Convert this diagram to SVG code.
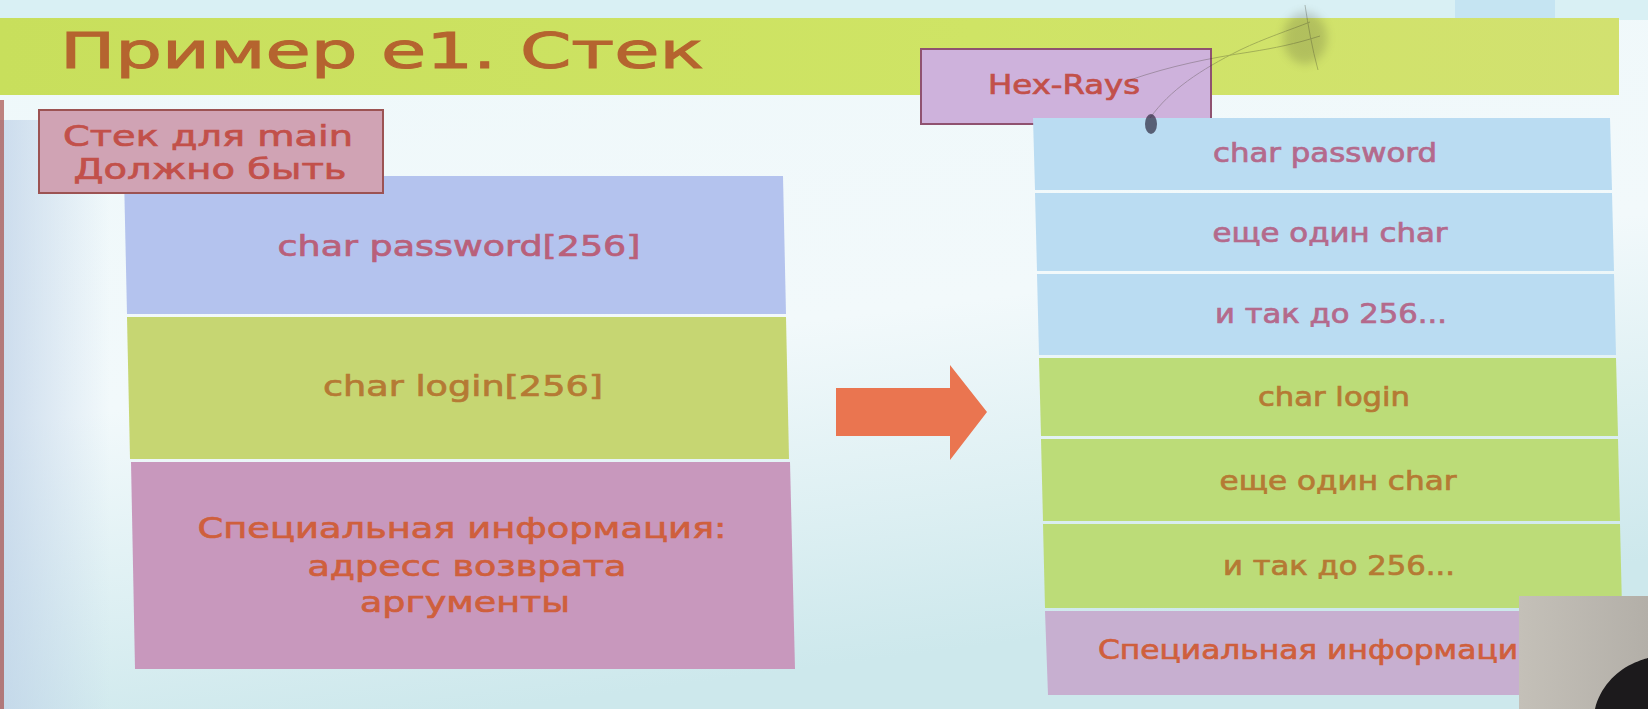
<svg xmlns="http://www.w3.org/2000/svg" width="1648" height="709" viewBox="0 0 1648 709">
  <style>
    text { font-family: "DejaVu Sans", "Noto Sans", sans-serif; stroke-width: 0.7px; }
    .title { font-size: 49px; fill: #b5642f; stroke: #b5642f; stroke-width: 1px; }
    .label { font-size: 29px; text-anchor: middle; }
    .small { font-size: 26px; text-anchor: middle; }
    .capText { fill: #c2504a; stroke: #c2504a; }
    .mauveText { fill: #b9607a; stroke: #b9607a; }
    .olive { fill: #b57a34; stroke: #b57a34; }
    .red { fill: #cf5f3c; stroke: #cf5f3c; }
    .blueText { fill: #b46a8c; stroke: #b46a8c; }
  </style>
  <defs>
    <linearGradient id="bg" x1="0" y1="0" x2="0.3" y2="1">
      <stop offset="0" stop-color="#eef8fa"/>
      <stop offset="0.55" stop-color="#f2f9fb"/>
      <stop offset="1" stop-color="#cde8ec"/>
    </linearGradient>
    <linearGradient id="leftShade" x1="0" y1="0" x2="1" y2="0">
      <stop offset="0" stop-color="#bfd2e8" stop-opacity="0.75"/>
      <stop offset="1" stop-color="#bfd2e8" stop-opacity="0"/>
    </linearGradient>
    <linearGradient id="bar" x1="0" y1="0" x2="1" y2="0">
      <stop offset="0" stop-color="#c8df5c"/>
      <stop offset="0.6" stop-color="#cfe465"/>
      <stop offset="1" stop-color="#d2e170"/>
    </linearGradient>
    <linearGradient id="cam" x1="0" y1="0" x2="1" y2="0">
      <stop offset="0" stop-color="#c4c0b8"/>
      <stop offset="1" stop-color="#b3afa8"/>
    </linearGradient>
    <filter id="soft" x="-50%" y="-50%" width="200%" height="200%">
      <feGaussianBlur stdDeviation="5"/>
    </filter>
  </defs>

  <!-- screen background -->
  <rect x="0" y="0" width="1648" height="709" fill="url(#bg)"/>
  <rect x="0" y="0" width="1648" height="20" fill="#d9f0f4"/>
  <rect x="1455" y="0" width="100" height="20" fill="#c5e4f2"/>
  <rect x="0" y="120" width="110" height="589" fill="url(#leftShade)"/>
  <rect x="0" y="100" width="4" height="609" fill="#a8504a" opacity="0.7"/>

  <!-- title bar -->
  <g id="title">
    <rect x="0" y="18" width="1619" height="77" fill="url(#bar)"/>
    <text class="title" x="60" y="68" textLength="644" lengthAdjust="spacingAndGlyphs">Пример e1. Стек</text>
  </g>

  <!-- left stack: declared layout -->
  <g id="left-password">
    <polygon points="124,176 783,176 786,314 127,314" fill="#b4c3ee"/>
    <text class="label mauveText" x="459" y="256" font-size="30" textLength="363" lengthAdjust="spacingAndGlyphs">char password[256]</text>
  </g>
  <g id="left-login">
    <polygon points="127,317 786,317 789,459 130,459" fill="#c6d672"/>
    <text class="label olive" x="463" y="396" font-size="30" textLength="280" lengthAdjust="spacingAndGlyphs">char login[256]</text>
  </g>
  <g id="left-special">
    <polygon points="131,462 790,462 795,669 135,669" fill="#c898bd"/>
    <text class="label red" x="462" y="538" textLength="529" lengthAdjust="spacingAndGlyphs">Специальная информация:</text>
    <text class="label red" x="467" y="576" textLength="319" lengthAdjust="spacingAndGlyphs">адресс возврата</text>
    <text class="label red" x="465" y="612" textLength="210" lengthAdjust="spacingAndGlyphs">аргументы</text>
  </g>

  <!-- caption for the left stack (drawn over the first cell) -->
  <g id="caption-main">
    <rect x="39" y="110" width="344" height="83" fill="#d0a3b4" stroke="#9c5353" stroke-width="2"/>
    <text class="label capText" x="208" y="146" font-size="24" textLength="290" lengthAdjust="spacingAndGlyphs">Стек для main</text>
    <text class="label capText" x="210" y="179" font-size="24" textLength="273" lengthAdjust="spacingAndGlyphs">Должно быть</text>
  </g>

  <!-- transition arrow -->
  <g id="connectors">
    <polygon points="836,388 950,388 950,365 987,412 950,460 950,436 836,436" fill="#ea7550"/>
  </g>

  <!-- decompiler caption -->
  <g id="caption-hexrays">
    <rect x="921" y="49" width="290" height="75" fill="#ceb2dc" stroke="#8f5270" stroke-width="2"/>
    <text class="small capText" x="1064" y="94" font-size="22" textLength="152" lengthAdjust="spacingAndGlyphs">Hex-Rays</text>
  </g>

  <!-- right stack: layout as decompiled -->
  <g id="right-password">
    <polygon points="1033,118 1610,118 1612,190 1035,190" fill="#badcf2"/>
    <text class="small blueText" x="1325" y="162" textLength="224" lengthAdjust="spacingAndGlyphs">char password</text>
  </g>
  <g id="right-pass-next">
    <polygon points="1035,193 1612,193 1614,271 1037,271" fill="#badcf2"/>
    <text class="small blueText" x="1330" y="242" textLength="235" lengthAdjust="spacingAndGlyphs">еще один char</text>
  </g>
  <g id="right-pass-rest">
    <polygon points="1037,274 1614,274 1616,355 1039,355" fill="#badcf2"/>
    <text class="small blueText" x="1331" y="323" textLength="232" lengthAdjust="spacingAndGlyphs">и так до 256...</text>
  </g>
  <g id="right-login">
    <polygon points="1039,358 1616,358 1618,436 1041,436" fill="#bcdc78"/>
    <text class="small olive" x="1334" y="406" textLength="152" lengthAdjust="spacingAndGlyphs">char login</text>
  </g>
  <g id="right-login-next">
    <polygon points="1041,439 1618,439 1620,521 1043,521" fill="#bcdc78"/>
    <text class="small olive" x="1338" y="490" textLength="237" lengthAdjust="spacingAndGlyphs">еще один char</text>
  </g>
  <g id="right-login-rest">
    <polygon points="1043,524 1620,524 1622,608 1045,608" fill="#bcdc78"/>
    <text class="small olive" x="1339" y="575" textLength="232" lengthAdjust="spacingAndGlyphs">и так до 256...</text>
  </g>
  <g id="right-special">
    <polygon points="1045,611 1622,611 1625,695 1048,695" fill="#c7afd0"/>
    <text class="red" x="1098" y="659" font-size="26" textLength="420" lengthAdjust="spacingAndGlyphs">Специальная информаци</text>
  </g>

  <!-- smudge on the screen -->
  <ellipse cx="1305" cy="38" rx="22" ry="26" fill="#4a4a30" opacity="0.22" filter="url(#soft)"/>
  <g opacity="0.3" fill="none" stroke="#3a3a2a" stroke-width="1">
    <path d="M1150,118 C1170,90 1200,70 1240,50 C1265,38 1290,30 1310,22"/>
    <path d="M1130,80 C1170,66 1210,58 1250,52 C1275,48 1295,44 1320,36"/>
    <path d="M1305,5 C1308,25 1312,48 1318,70"/>
  </g>
  <ellipse cx="1151" cy="124" rx="6" ry="10" fill="#2e2a40" opacity="0.7"/>

  <!-- camera inset -->
  <rect x="1519" y="596" width="129" height="113" fill="url(#cam)"/>
  <path d="M1595,709 C1600,688 1615,672 1632,664 C1640,660 1648,658 1648,658 L1648,709 Z" fill="#1c1a1c"/>
</svg>
